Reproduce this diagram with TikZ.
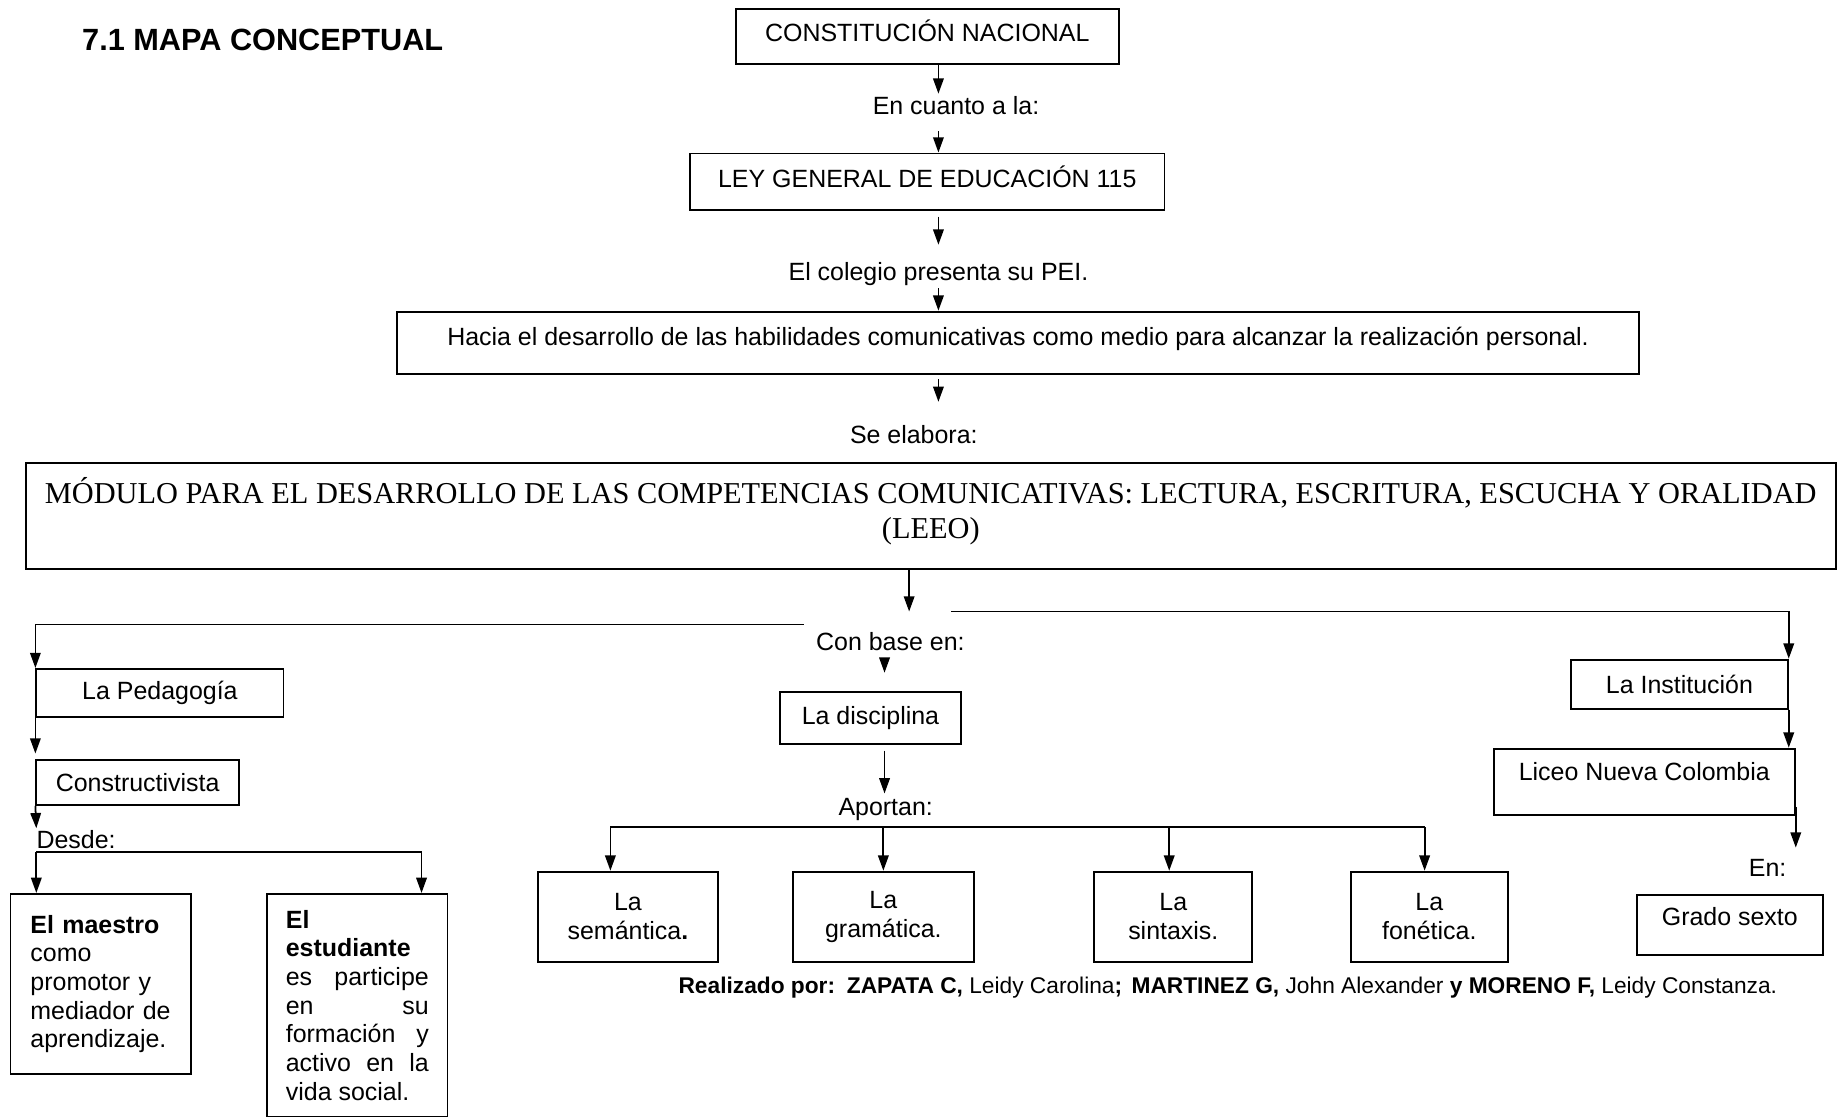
\documentclass[tikz,border=0pt]{standalone}
\usepackage{fontspec}
\setmainfont{Liberation Sans}
\newfontfamily\timesfont{Liberation Serif}
\usetikzlibrary{calc}
\usetikzlibrary{arrows.meta}
\tikzset{
    caja/.style={draw, line width=1.6pt, inner sep=0pt, align=center},
    texto/.style={inner sep=2pt},
    flecha/.style={line width=1.5pt, -{Triangle[length=13pt,width=9pt]}},
    linea/.style={line width=1.5pt}
}

\begin{document}
\begin{tikzpicture}[x=1pt,y=-1pt,font=\fontsize{21.3}{24.5}\selectfont]
\useasboundingbox (0,0) rectangle (1568,953);
\coordinate (E) at (801,0);
\coordinate (D) at (755,0);
\coordinate (ls) at (686,533);
\coordinate (rs) at (812,522);
\coordinate (dj) at (31,727);
\coordinate (ap) at (0,706);
\node[anchor=west, inner sep=0pt, font=\fontsize{26.2}{30}\selectfont\bfseries] (titulo) at (70,34) {7.1 MAPA CONCEPTUAL};
\node[caja, minimum width=327, minimum height=47, text depth=11pt] (cn) at (791.5,31.5) {CONSTITUCIÓN NACIONAL};
\node[texto] (encuanto) at (816,90) {En cuanto a la:};
\node[caja, minimum width=405, minimum height=48, text depth=8pt] (ley) at (791.5,155) {LEY GENERAL DE EDUCACIÓN 115};
\node[texto] (colegio) at (801,234) {El colegio presenta su PEI.};
\node[caja, minimum width=1060, minimum height=53, text depth=11pt] (hacia) at (869,292.5) {Hacia el desarrollo de las habilidades comunicativas como medio para alcanzar la realización personal.};
\node[texto] (elabora) at (780,371) {Se elabora:};
\node[caja, minimum width=1545, minimum height=91, text depth=14pt, font=\timesfont\fontsize{25.9}{30.5}\selectfont] (modulo) at (794.5,440.5) {MÓDULO PARA EL DESARROLLO DE LAS COMPETENCIAS COMUNICATIVAS: LECTURA, ESCRITURA, ESCUCHA Y ORALIDAD\\(LEEO)};
\node[texto] (conbase) at (760,548) {Con base en:};
\node[caja, minimum width=211, minimum height=41] (ped) at (136.5,591.5) {La Pedagogía};
\node[caja, minimum width=173, minimum height=38] (cons) at (117.5,668) {Constructivista};
\node[anchor=west, inner sep=0pt] (desde) at (31,717) {Desde:};
\node[caja, minimum width=154, minimum height=154, text width=120, align=left] (maestro) at (86,840) {\textbf{El maestro}\\como\\promotor y\\mediador de\\aprendizaje.};
\node[caja, minimum width=154, minimum height=190, text width=122, align=justify] (estud) at (305,858) {\textbf{El}\newline\textbf{estudiante}\newline es participe\linebreak en su\linebreak formación y\linebreak activo en la\linebreak vida social.};
\node[caja, minimum width=154, minimum height=44] (disc) at (743,613) {La disciplina};
\node[texto] (aportan) at (756,691) {Aportan:};
\node[caja, minimum width=154, minimum height=77] (sem) at (536,782.5) {La\\semántica\textbf{.}};
\node[caja, minimum width=154, minimum height=77] (gram) at (754,782.5) {La\\gramática.};
\node[caja, minimum width=135, minimum height=77] (sint) at (1001.5,782.5) {La\\sintaxis.};
\node[caja, minimum width=134, minimum height=77] (fon) at (1220,782.5) {La\\fonética.};
\node[caja, minimum width=185, minimum height=42] (inst) at (1433.5,584) {La Institución};
\node[caja, minimum width=257, minimum height=57, text depth=18pt] (liceo) at (1403.5,667.5) {Liceo Nueva Colombia};
\node[texto, anchor=east] (en) at (1527,741) {En:};
\node[caja, minimum width=159, minimum height=51, text depth=15pt] (grado) at (1476.5,789.5) {Grado sexto};
\node[anchor=west, inner sep=0pt, font=\fontsize{19.4}{22}\selectfont] (autores) at (579,843) {\textbf{Realizado por:}\hspace{10pt}\textbf{ZAPATA C,} Leidy Carolina\textbf{;}\hspace{8pt}\textbf{MARTINEZ G,} John Alexander \textbf{y MORENO F,} Leidy Constanza.};
\draw[flecha] (cn.south -| E) -- (encuanto.north -| E);
\draw[flecha] ($(encuanto.south -| E)+(0,12)$) -- (ley.north -| E);
\draw[flecha] ($(ley.south -| E)+(0,5)$) -- ($(colegio.north -| E)+(0,-13)$);
\draw[flecha] (colegio.south -| E) -- (hacia.north -| E);
\draw[flecha] ($(hacia.south -| E)+(0,4)$) -- ($(elabora.north -| E)+(0,-18)$);
\draw[flecha] ($(modulo.south)+(-18.5,0)$) -- ($(modulo.south |- rs)+(-18.5,0)$);
\draw[flecha] (ls) -| (ped.north west);
\draw[flecha] (rs) -| (inst.north east);
\draw[flecha] (inst.south east) -- (inst.south east |- liceo.north);
\draw[flecha] ($(liceo.south east)+(0,-8)$) -- ($(en.north -| liceo.east)+(0,-8)$);
\draw[flecha] (ped.south west) -- ($(cons.north west)+(0,-5)$);
\draw[flecha] (cons.south west) -- ($(desde.north west)+(0,-2)$);
\draw[flecha] (dj) -- (dj |- maestro.north);
\draw[flecha] (dj) -| ($(estud.north east)+(-23,0)$);
\draw[flecha] ($(conbase.south -| D)+(0,4)$) -- ($(disc.north -| D)+(0,-16)$);
\draw[flecha] ($(disc.south -| D)+(0,5)$) -- ($(aportan.north -| D)+(0,-2)$);
\draw[linea] ($(sem.north |- ap)+(-15,0)$) -- ($(fon.north |- ap)+(-4,0)$);
\draw[flecha] ($(sem.north |- ap)+(-15,0)$) -- ($(sem.north)+(-15,0)$);
\draw[flecha] (gram.north |- ap) -- (gram.north);
\draw[flecha] ($(sint.north |- ap)+(-3.5,0)$) -- ($(sint.north)+(-3.5,0)$);
\draw[flecha] ($(fon.north |- ap)+(-4,0)$) -- ($(fon.north)+(-4,0)$);
\end{tikzpicture}
\end{document}
